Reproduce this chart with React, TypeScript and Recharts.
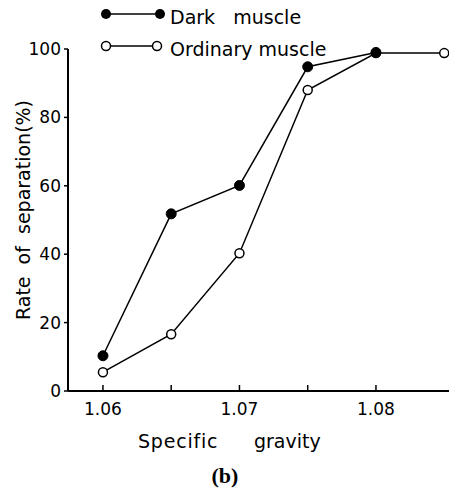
import React from 'react';
import { LineChart, Line, XAxis, YAxis, Legend } from 'recharts';

// specific gravity of the separation liquid
const gravity = [1.06, 1.065, 1.07, 1.075, 1.08, 1.085];
// rate of separation (%)
const darkMuscle = [10.3, 51.8, 60.1, 94.8, 99];
const ordinaryMuscle = [5.5, 16.6, 40.3, 88, 98.8, 98.8];
const xTicks = [1.06, 1.065, 1.07, 1.075, 1.08];
const yTicks = [0, 20, 40, 60, 80, 100];

const darkData = darkMuscle.map((v, i) => ({ g: gravity[i], v }));
const ordinaryData = ordinaryMuscle.map((v, i) => ({ g: gravity[i], v }));

const FONT = '"DejaVu Sans", sans-serif';

const FilledDot = (props: any) => {
  const { cx, cy } = props;
  return <circle cx={cx} cy={cy} r={5} fill="#000" stroke="#000" />;
};

const OpenDot = (props: any) => {
  const { cx, cy } = props;
  return <circle cx={cx} cy={cy} r={4.5} fill="#fff" stroke="#000" strokeWidth={1.5} />;
};

const XTick = (props: any) => {
  const { x, y, index, payload } = props;
  return (
    <g>
      <line x1={x} y1={y} x2={x} y2={y - 6} stroke="#000" strokeWidth={1.5} />
      {index % 2 === 0 && (
        <text x={x} y={y + 24} textAnchor="middle" fontSize={17} fontFamily={FONT} fill="#000">
          {payload.value.toFixed(2)}
        </text>
      )}
    </g>
  );
};

const LegendBox = () => (
  <svg width={449} height={70}>
    <line x1={106} y1={14} x2={160} y2={14} stroke="#000" strokeWidth={1.5} />
    <circle cx={106} cy={14} r={5} fill="#000" />
    <circle cx={160} cy={14} r={5} fill="#000" />
    <text x={170} y={24} fontSize={19} fontFamily={FONT} fill="#000" style={{ whiteSpace: 'pre' }}>
      {'Dark   muscle'}
    </text>
    <line x1={106} y1={46} x2={157} y2={46} stroke="#000" strokeWidth={1.5} />
    <circle cx={106} cy={46} r={4.5} fill="#fff" stroke="#000" strokeWidth={1.5} />
    <circle cx={157} cy={46} r={4.5} fill="#fff" stroke="#000" strokeWidth={1.5} />
    <text x={170} y={56} fontSize={19} fontFamily={FONT} fill="#000">
      Ordinary muscle
    </text>
  </svg>
);

export default function App() {
  return (
    <div style={{ position: 'absolute', left: 0, top: 0, background: '#fff' }}>
      <LineChart width={449} height={494} margin={{ top: 49, right: 0, bottom: 73, left: 8 }}>
        <XAxis
          dataKey="g"
          type="number"
          domain={[1.05744, 1.08535]}
          allowDataOverflow
          ticks={xTicks}
          interval={0}
          height={30}
          tickSize={0}
          tickMargin={0}
          tickLine={false}
          tick={<XTick />}
          axisLine={{ stroke: '#000', strokeWidth: 2 }}
          label={{
            content: () => (
              <g>
                <text x={138} y={448} fontSize={19} letterSpacing={0.8} fontFamily={FONT} fill="#000">
                  Specific
                </text>
                <text x={254} y={448} fontSize={19} fontFamily={FONT} fill="#000">
                  gravity
                </text>
                <text x={225} y={483} textAnchor="middle" fontSize={22} fontWeight="bold" fontFamily='"Liberation Serif", serif' fill="#000">
                  (b)
                </text>
              </g>
            ),
          }}
        />
        <YAxis
          type="number"
          domain={[0, 100]}
          ticks={yTicks}
          width={60}
          tickSize={4}
          tickMargin={3}
          tickLine={{ stroke: '#000', strokeWidth: 1.5 }}
          axisLine={{ stroke: '#000', strokeWidth: 2 }}
          tick={{ fill: '#000', fontSize: 17, fontFamily: FONT }}
          label={{
            content: () => (
              <text
                x={30}
                y={210}
                transform="rotate(-90, 30, 210)"
                textAnchor="middle"
                fontSize={19}
                fontFamily={FONT}
                fill="#000"
                style={{ whiteSpace: 'pre' }}
              >
                {'Rate  of  separation(%)'}
              </text>
            ),
          }}
        />
        <Legend
          layout="vertical"
          align="center"
          verticalAlign="middle"
          wrapperStyle={{ top: 0, left: 0, width: 449 }}
          content={<LegendBox />}
        />
        <Line
          data={ordinaryData}
          dataKey="v"
          name="Ordinary muscle"
          type="linear"
          stroke="#000"
          strokeWidth={1.5}
          dot={<OpenDot />}
          isAnimationActive={false}
        />
        <Line
          data={darkData}
          dataKey="v"
          name="Dark muscle"
          type="linear"
          stroke="#000"
          strokeWidth={1.5}
          dot={<FilledDot />}
          isAnimationActive={false}
        />
      </LineChart>
    </div>
  );
}
